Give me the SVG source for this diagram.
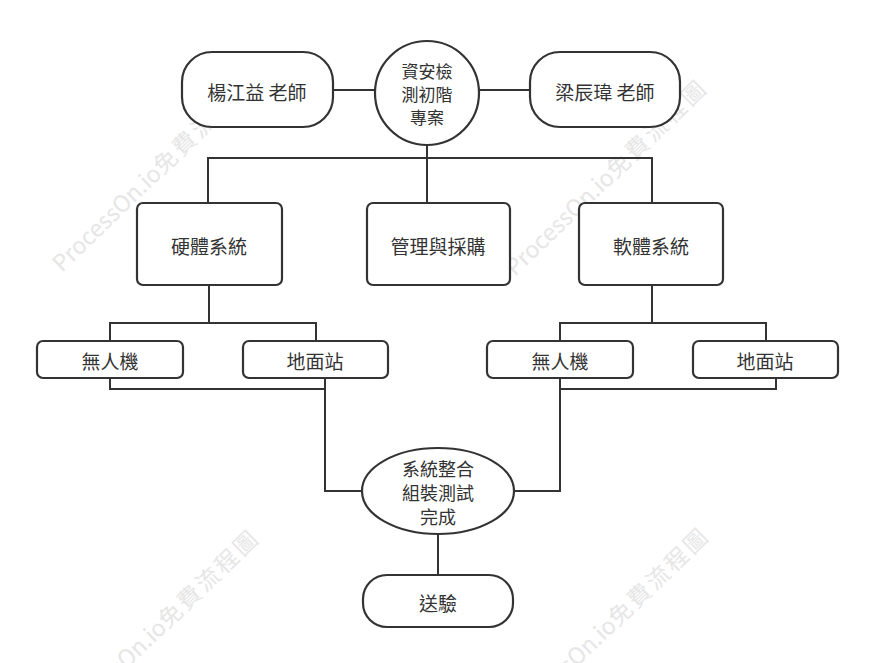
<svg xmlns="http://www.w3.org/2000/svg" width="875" height="663" viewBox="0 0 875 663">
<style>
.wm{font-family:"Noto Sans CJK TC","Noto Sans",sans-serif;font-size:23px;fill:#e6e6e6}
.wm tspan{letter-spacing:3px}
.n rect,.n circle,.n ellipse{fill:#fff;stroke:#333;stroke-width:2.2}
.n text{font-family:"Noto Sans CJK TC","Noto Sans",sans-serif;font-size:19px;fill:#333;text-anchor:middle;dominant-baseline:central}
.n text.m{font-size:18px}
.n text.s{font-size:17px}
.c path{fill:none;stroke:#333;stroke-width:2}
</style>
<rect width="875" height="663" fill="#fff"/>
<g id="watermarks">
<text class="wm" transform="translate(62,273) rotate(-44)">ProcessOn.io<tspan>免費流程圖</tspan></text>
<text class="wm" transform="translate(515,277) rotate(-44)">ProcessOn.io<tspan>免費流程圖</tspan></text>
<text class="wm" transform="translate(67,727) rotate(-44)">ProcessOn.io<tspan>免費流程圖</tspan></text>
<text class="wm" transform="translate(517,725) rotate(-44)">ProcessOn.io<tspan>免費流程圖</tspan></text>
</g>
<g id="connectors" class="c">
<path d="M333,90 H375"/>
<path d="M479,90 H530"/>
<path d="M427,145 V158"/>
<path d="M208,203 V158 H652 V203"/>
<path d="M427,158 V203"/>
<path d="M209,285 V323"/>
<path d="M110,341 V323 H316 V341"/>
<path d="M110,378 V389 H325"/>
<path d="M325,378 V491 H362"/>
<path d="M652,285 V323"/>
<path d="M560,341 V323 H766 V341"/>
<path d="M776,378 V389 H560"/>
<path d="M560,378 V491 H514"/>
<path d="M438,534 V575"/>
</g>
<g id="n-yang" class="n"><rect x="182" y="52" width="151" height="75" rx="30"/><text x="257" y="91">楊江益 老師</text></g>
<g id="n-project" class="n"><circle cx="427" cy="93" r="52"/><text class="s" x="427" y="70">資安檢</text><text class="s" x="427" y="93">測初階</text><text class="s" x="427" y="116">專案</text></g>
<g id="n-liang" class="n"><rect x="530" y="52" width="150" height="75" rx="30"/><text x="605" y="91">梁辰瑋 老師</text></g>
<g id="n-hw" class="n"><rect x="137" y="203" width="145" height="82" rx="6"/><text x="209" y="245">硬體系統</text></g>
<g id="n-mgmt" class="n"><rect x="367" y="203" width="143" height="82" rx="6"/><text x="438" y="245">管理與採購</text></g>
<g id="n-sw" class="n"><rect x="579" y="203" width="144" height="82" rx="6"/><text x="651" y="245">軟體系統</text></g>
<g id="n-hw-uav" class="n"><rect x="37" y="341" width="146" height="37" rx="6"/><text x="110" y="360">無人機</text></g>
<g id="n-hw-gs" class="n"><rect x="243" y="341" width="145" height="37" rx="6"/><text x="315" y="360">地面站</text></g>
<g id="n-sw-uav" class="n"><rect x="487" y="341" width="146" height="37" rx="6"/><text x="560" y="360">無人機</text></g>
<g id="n-sw-gs" class="n"><rect x="693" y="341" width="145" height="37" rx="6"/><text x="765" y="360">地面站</text></g>
<g id="n-integ" class="n"><ellipse cx="438" cy="491" rx="76" ry="43"/><text class="m" x="438" y="468">系統整合</text><text class="m" x="438" y="492">組裝測試</text><text class="m" x="438" y="516">完成</text></g>
<g id="n-test" class="n"><rect x="363" y="575" width="150" height="52" rx="24"/><text x="438" y="602">送驗</text></g>
</svg>
